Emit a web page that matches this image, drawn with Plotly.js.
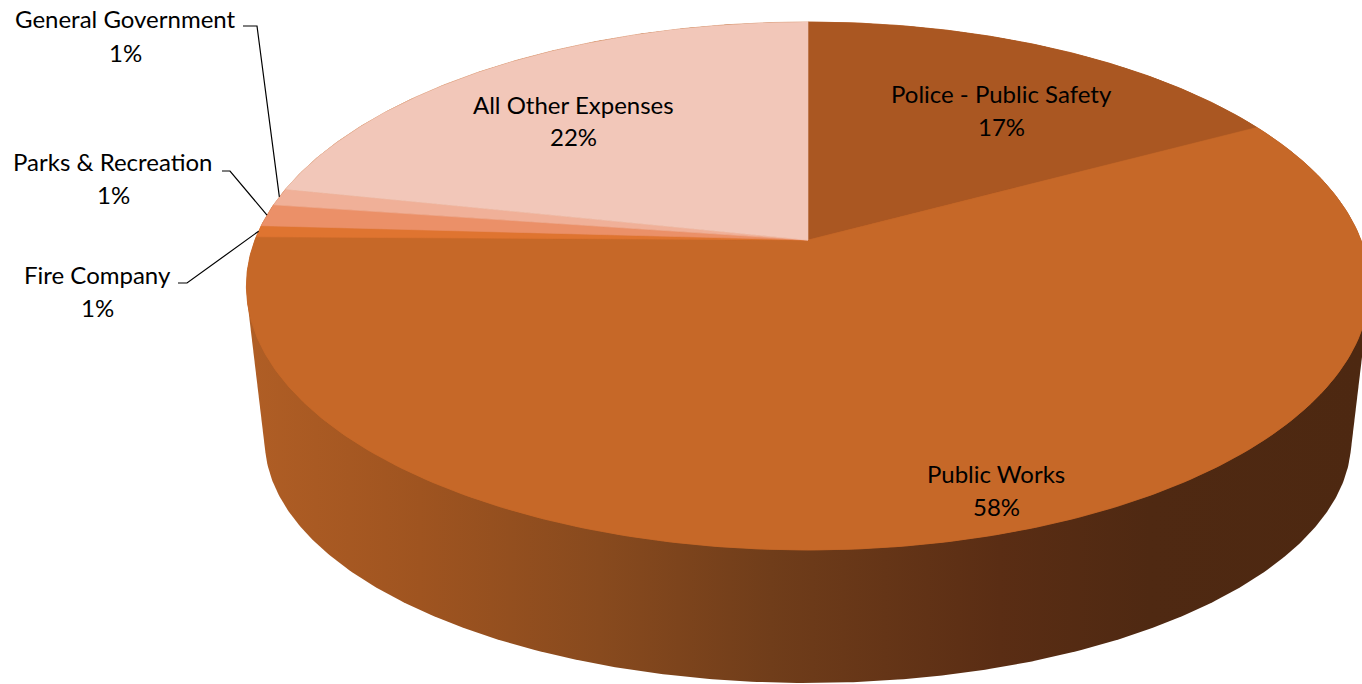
<!DOCTYPE html>
<html><head><meta charset="utf-8">
<script src="https://cdn.plot.ly/plotly-3.0.1.min.js"></script>
<style>html,body{margin:0;padding:0;background:#fff;overflow:hidden}</style>
</head><body><div id="chart" style="width:1362px;height:684px"></div>
<script>
// ---- data ----
const categories = ["Police - Public Safety","Public Works","Fire Company","Parks & Recreation","General Government","All Other Expenses"];
const values = [17.1, 58.1, 0.7, 1.35, 1.05, 21.7];
const sliceColors = ["#aa5722","#c66828","#df7430","#eb9068","#f0b098","#f2c7b9"];

// ---- geometry / style (3D pie projection) ----
const G = {cx:808, cy:240, a:553, p:214.17, k:0.1742, ab:535, pb:166.3, qb:397.7};
function topPt(th){ const u=-Math.cos(th), d=1-G.k*u; return [G.cx+G.a*Math.sin(th)/d, (G.p*u+G.cy)/d]; }
function botPt(th){ const u=-Math.cos(th), d=1-G.k*u; return [G.cx+G.ab*Math.sin(th)/d, (G.pb*u+G.qb)/d]; }

const total = values.reduce((s,v)=>s+v,0);
const starts = []; let acc = 0;
values.forEach(v=>{ starts.push(acc); acc += v; });
const ang = f => f/total*2*Math.PI;

// side: convex hull of top and bottom ellipses
function hull(pts){
  pts = pts.slice().sort((A,B)=>A[0]-B[0]||A[1]-B[1]);
  const cr=(o,a,b)=>(a[0]-o[0])*(b[1]-o[1])-(a[1]-o[1])*(b[0]-o[0]);
  const lo=[],up=[];
  for(const p of pts){ while(lo.length>=2&&cr(lo[lo.length-2],lo[lo.length-1],p)<=0) lo.pop(); lo.push(p); }
  for(let i=pts.length-1;i>=0;i--){ const p=pts[i]; while(up.length>=2&&cr(up[up.length-2],up[up.length-1],p)<=0) up.pop(); up.push(p); }
  up.pop(); lo.pop(); return lo.concat(up);
}
const N = 720, allPts = [], topX=[], topY=[];
for(let i=0;i<=N;i++){ const th=i/N*2*Math.PI; const t=topPt(th), b=botPt(th); allPts.push(t,b); topX.push(t[0]); topY.push(t[1]); }
const H = hull(allPts); H.push(H[0]);

const traces = [];
traces.push({type:'scatter', mode:'lines', x:H.map(p=>p[0]), y:H.map(p=>p[1]), fill:'toself',
  line:{width:0, color:'rgba(0,0,0,0)'}, hoverinfo:'skip', showlegend:false,
  fillgradient:{type:'horizontal', start:246, stop:1362,
    colorscale:[[0,'#b05e25'],[0.156,'#9f5420'],[0.317,'#884a1e'],[0.47,'#703d1a'],[0.676,'#5a2d14'],[0.81,'#4f2912'],[1,'#4d2811']]}});
// base top face
traces.push({type:'scatter', mode:'lines', x:topX, y:topY, fill:'toself', fillcolor:sliceColors[1],
  line:{width:0.5, color:sliceColors[1]}, hoverinfo:'skip', showlegend:false});
// slices on top face
values.forEach((v,i)=>{
  const t0=ang(starts[i]), t1=ang(starts[i]+v), n=Math.max(4, Math.ceil((t1-t0)/(2*Math.PI)*720));
  const xs=[G.cx], ys=[G.cy];
  for(let j=0;j<=n;j++){ const p=topPt(t0+(t1-t0)*j/n); xs.push(p[0]); ys.push(p[1]); }
  xs.push(G.cx); ys.push(G.cy);
  traces.push({type:'scatter', mode:'lines', x:xs, y:ys, fill:'toself', fillcolor:sliceColors[i],
    line:{width:0.6, color:sliceColors[i]}, name:categories[i], hoverinfo:'name', showlegend:false});
});

// labels
const pct = v => Math.round(v/total*100)+'%';
const F = {family:'Lato, "Open Sans", sans-serif', size:24, color:'#000'};
const labelPos = [
  {x:1001, y1:93, y2:126},
  {x:996, y1:473, y2:506},
  {x:97, y1:274, y2:307, lx:[178,187]},
  {x:113, y1:161, y2:194, lx:[222,230]},
  {x:125, y1:18, y2:52, lx:[243,257]},
  {x:573, y1:104, y2:136}
];
const leaderY = {2:283, 3:171, 4:26};
const annotations = [];
categories.forEach((c,i)=>{
  const L = labelPos[i];
  annotations.push({x:L.x, y:L.y1, xref:'x', yref:'y', text:c, showarrow:false, font:F, xanchor:'center', yanchor:'middle'});
  annotations.push({x:L.x, y:L.y2, xref:'x', yref:'y', text:pct(values[i]), showarrow:false, font:F, xanchor:'center', yanchor:'middle'});
  if(L.lx){
    const mid = topPt(ang(starts[i]+values[i]/2));
    traces.push({type:'scatter', mode:'lines', x:[L.lx[0],L.lx[1],mid[0]], y:[leaderY[i],leaderY[i],mid[1]],
      line:{color:'#000', width:1.2}, hoverinfo:'skip', showlegend:false});
  }
});

const layout = {
  width:1362, height:684, margin:{l:0,r:0,t:0,b:0},
  paper_bgcolor:'#fff', plot_bgcolor:'#fff', showlegend:false,
  xaxis:{range:[0,1362], visible:false, fixedrange:true},
  yaxis:{range:[684,0], visible:false, fixedrange:true},
  annotations:annotations
};
Plotly.newPlot('chart', traces, layout, {displayModeBar:false, staticPlot:true});
</script></body></html>
